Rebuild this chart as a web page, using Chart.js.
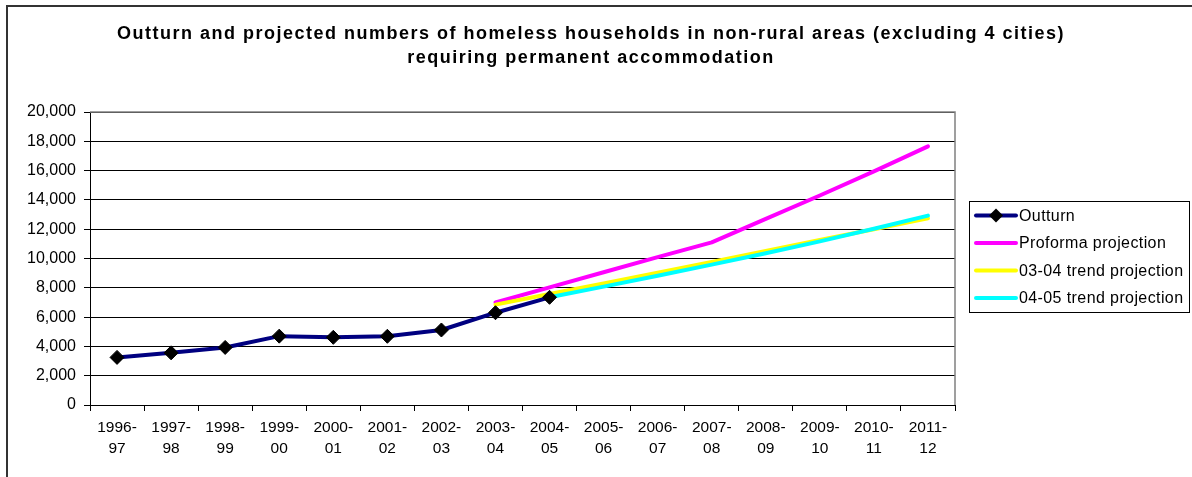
<!DOCTYPE html>
<html>
<head>
<meta charset="utf-8">
<script src="https://cdn.jsdelivr.net/npm/chart.js@4.4.1/dist/chart.umd.min.js"></script>
<style>
  html, body { margin: 0; padding: 0; background: #fff; }
  #wrap { width: 1192px; height: 477px; }
</style>
</head>
<body>
<div id="wrap"><canvas id="homelessChart" width="1192" height="477"></canvas></div>
<script>
// Financial years on the x axis
const years = ['1996-97', '1997-98', '1998-99', '1999-00', '2000-01', '2001-02', '2002-03', '2003-04',
  '2004-05', '2005-06', '2006-07', '2007-08', '2008-09', '2009-10', '2010-11', '2011-12'];

// Households requiring permanent accommodation
const outturn = [3250, 3560, 3930, 4700, 4620, 4690, 5120, 6300, 7350,
  null, null, null, null, null, null, null];
const proforma = [null, null, null, null, null, null, null, 7000, 8030,
  9060, 10090, 11100, 12700, 14300, 15950, 17650];
const trend0304 = [null, null, null, null, null, null, null, 6850, 7580,
  8300, 9030, 9770, 10510, 11260, 12000, 12740];
const trend0405 = [null, null, null, null, null, null, null, null, 7350,
  8080, 8820, 9580, 10360, 11170, 12030, 12925];

const yTicks = [0, 2000, 4000, 6000, 8000, 10000, 12000, 14000, 16000, 18000, 20000];

const titleLines = [
  'Outturn and projected numbers of homeless households in non-rural areas (excluding 4 cities)',
  'requiring permanent accommodation'
];

const FONT = 'Arial, "Liberation Sans", sans-serif';

// frame, plot border, title and legend box
const decorations = {
  id: 'decorations',
  beforeDraw(chart) {
    const ctx = chart.ctx;
    ctx.save();
    ctx.fillStyle = '#fff';
    ctx.fillRect(0, 0, chart.width, chart.height);
    ctx.strokeStyle = '#333';
    ctx.lineWidth = 2;
    ctx.strokeRect(7, 6, chart.width + 20, chart.height + 20);
    ctx.restore();
  },
  beforeDatasetsDraw(chart) {
    const { ctx, chartArea: a } = chart;
    ctx.save();
    ctx.strokeStyle = '#808080';
    ctx.lineWidth = 1.5;
    ctx.beginPath();
    ctx.moveTo(a.left, a.top);
    ctx.lineTo(a.right, a.top);
    ctx.lineTo(a.right, a.bottom);
    ctx.stroke();
    ctx.restore();
  },
  afterDraw(chart) {
    const ctx = chart.ctx;
    ctx.save();
    ctx.fillStyle = '#000';
    ctx.font = 'bold 18px ' + FONT;
    ctx.letterSpacing = '1.5px';
    ctx.textAlign = 'center';
    ctx.textBaseline = 'middle';
    ctx.fillText(titleLines[0], 591, 34);
    ctx.fillText(titleLines[1], 591, 58);

    // legend
    const bx = 969.5, by = 201.5, bw = 220, bh = 111;
    ctx.strokeStyle = '#000';
    ctx.lineWidth = 1;
    ctx.strokeRect(bx, by, bw, bh);
    const rows = [215.5, 243, 270.5, 298];
    ctx.font = '16px ' + FONT;
    ctx.letterSpacing = '0.4px';
    ctx.textAlign = 'left';
    chart.data.datasets.forEach((ds, i) => {
      const y = rows[i];
      ctx.strokeStyle = ds.borderColor;
      ctx.lineWidth = 4;
      ctx.lineCap = 'round';
      ctx.beginPath();
      ctx.moveTo(976, y);
      ctx.lineTo(1016, y);
      ctx.stroke();
      if (ds.pointRadius > 0) {
        ctx.fillStyle = ds.pointBackgroundColor;
        ctx.beginPath();
        ctx.moveTo(996, y - 7);
        ctx.lineTo(1003, y);
        ctx.lineTo(996, y + 7);
        ctx.lineTo(989, y);
        ctx.closePath();
        ctx.fill();
      }
      ctx.fillStyle = '#000';
      ctx.fillText(ds.label, 1019, y + 1);
    });
    ctx.restore();
  }
};

const lineStyle = (color) => ({
  borderColor: color,
  backgroundColor: color,
  borderWidth: 4,
  pointRadius: 0,
  pointHoverRadius: 0,
  tension: 0,
  borderCapStyle: 'round',
  borderJoinStyle: 'round'
});

new Chart(document.getElementById('homelessChart'), {
  type: 'line',
  data: {
    labels: years,
    datasets: [
      Object.assign(lineStyle('#000080'), {
        label: 'Outturn',
        data: outturn,
        pointStyle: 'rectRot',
        pointRadius: 7,
        pointBackgroundColor: '#000',
        pointBorderColor: '#000',
        pointBorderWidth: 1,
        order: 0
      }),
      Object.assign(lineStyle('#FF00FF'), { label: 'Proforma projection', data: proforma, order: 3 }),
      Object.assign(lineStyle('#FFFF00'), { label: '03-04 trend projection', data: trend0304, order: 2 }),
      Object.assign(lineStyle('#00FFFF'), { label: '04-05 trend projection', data: trend0405, order: 1 })
    ]
  },
  options: {
    responsive: false,
    animation: false,
    layout: { padding: { top: 112, left: 0, right: 237, bottom: 0 } },
    plugins: {
      legend: { display: false },
      title: { display: false },
      tooltip: { enabled: false }
    },
    scales: {
      x: {
        offset: true,
        grid: { offset: true, drawOnChartArea: false, drawTicks: true, tickLength: 6, color: '#000' },
        border: { display: true, color: '#000', width: 1 },
        ticks: {
          color: '#000',
          font: { family: FONT, size: 15.5, lineHeight: 1.35 },
          padding: 6,
          maxRotation: 0,
          autoSkip: false,
          callback: (v, i) => [years[i].slice(0, 5), years[i].slice(5)]
        },
        afterFit: (s) => { s.height = 72; }
      },
      y: {
        min: 0,
        max: 20000,
        afterBuildTicks: (s) => { s.ticks = yTicks.map(v => ({ value: v })); },
        grid: { color: '#000', lineWidth: 1, tickLength: 6 },
        border: { display: true, color: '#000', width: 1 },
        ticks: {
          color: '#000',
          font: { family: FONT, size: 16 },
          padding: 8,
          callback: (v) => v.toLocaleString('en-US')
        },
        afterFit: (s) => { s.width = 90; }
      }
    }
  },
  plugins: [decorations]
});
</script>
</body>
</html>
